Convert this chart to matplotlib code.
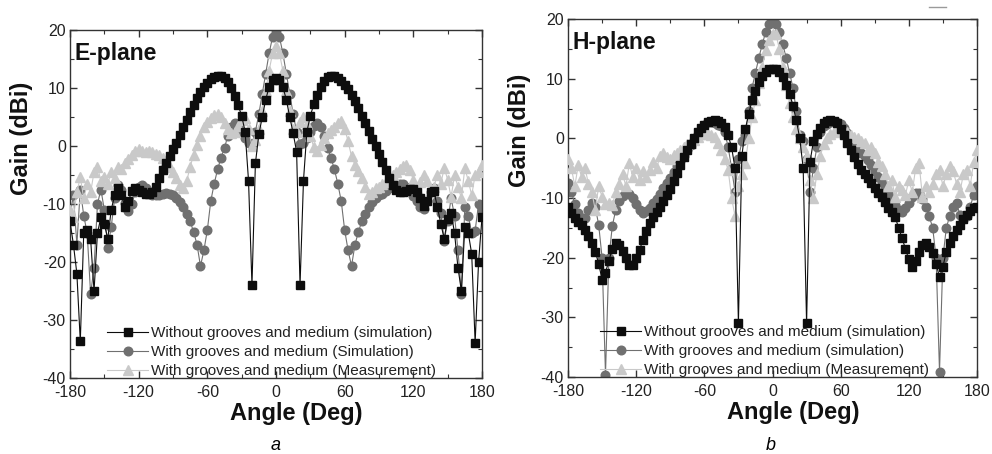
import numpy as np
import matplotlib
matplotlib.use('Agg')
import matplotlib.pyplot as plt
from matplotlib.lines import Line2D

plt.rcParams['font.family'] = ['Liberation Sans', 'DejaVu Sans']
plt.rcParams['axes.unicode_minus'] = False

# angle grid (deg), 3 deg steps
angle = np.arange(-180, 181, 3)

# E-plane
e_plain_sim = [
    -13, -17, -22, -33.7, -15, -14.5, -16, -25, -15, -12.3,
    -13.5, -16, -11, -8.5, -7.2, -8.5, -10.5, -9.5, -7.8, -7.2,
    -7.5, -8, -8.3, -8.3, -8, -7, -5.5, -4.2, -3, -1.8,
    -0.6, 0.6, 1.9, 3.2, 4.5, 5.8, 7, 8.2, 9.3, 10.2,
    10.9, 11.5, 11.9, 12.1, 12.1, 11.8, 11.1, 10, 8.6, 7,
    5.2, 2.5, -6, -24, -3, 2, 5, 8, 10.2, 11.4,
    11.8, 11.4, 10.2, 8, 5, 2.2, -1, -24, -6, 2.5,
    5.2, 7.2, 8.8, 10.1, 11.2, 11.9, 12.1, 12, 11.7, 11.2,
    10.6, 9.8, 8.8, 7.7, 6.5, 5.2, 3.9, 2.6, 1.2, 0,
    -1.4, -2.8, -4.2, -5.6, -6.8, -7.5, -7.9, -8, -7.8, -7.4,
    -7.4, -7.9, -9, -10.3, -9.5, -8, -7.8, -10.5, -13.4, -16,
    -12.5, -11.5, -15, -21, -25, -14, -15, -18.6, -33.9, -20,
    -12.3]
e_grooves_sim = [
    -12, -8.5, -17, -7.5, -12, -15, -25.5, -21, -10, -7.5,
    -11, -17.5, -14, -9, -6.8, -7.5, -9.8, -11.2, -10, -8,
    -7, -6.8, -7.3, -8, -8.4, -8.5, -8.4, -8.2, -8.1, -8.2,
    -8.5, -8.9, -9.6, -10.5, -11.8, -13, -14.8, -17, -20.7, -18,
    -14.5, -9.5, -6.5, -4, -2, -0.3, 1.8, 3.3, 3.9, 3.5,
    2.5, 1.3, 0.6, 0.4, 2.5, 5.5, 9, 12.5, 16, 18.8,
    19.7, 18.8, 16, 12.5, 9, 5.5, 2.5, 0.4, 0.6, 1.3,
    2.5, 3.5, 3.9, 3.3, 1.8, -0.3, -2, -4, -6.5, -9.5,
    -14.5, -18, -20.7, -17, -14.8, -13, -11.8, -10.5, -9.6, -8.9,
    -8.5, -8.2, -7.8, -7.3, -7, -6.8, -6.6, -6.5, -7, -7.8,
    -8.6, -9.4, -10.5, -10.8, -9.5, -8, -7.2, -9.5, -11.5, -16.3,
    -13, -9, -12, -18, -25.5, -10.5, -12, -15, -14.6, -10,
    -11]
e_grooves_meas = [
    -11, -12.3, -8, -5.4, -9, -6.5, -8, -4.5, -3.6, -6,
    -5.4, -6.5, -4.5, -5.5, -3.6, -4, -3, -2.2, -1.5, -0.8,
    -0.5, -0.8, -1, -0.9, -1, -1.3, -1.6, -2, -2.6, -3.6,
    -4.5, -5.5, -6.8, -7.2, -6, -3.6, -1.5, 0.2, 1.8, 3.3,
    4.2, 4.8, 5.4, 5.6, 5, 4, 3, 2.2, 2.5, 3.5,
    4.4, 4.8, 3, 0, 1, 3, 6, 9.5, 13, 16,
    17.3, 16, 13, 9.5, 6, 3, 2.5, 4.2, 5, 3.8,
    1.8, -0.2, -0.8, 0.2, 1.3, 2.2, 2.8, 3.3, 4, 4.3,
    3, 0.8, -1.8, -3.2, -4.3, -5.6, -7, -8.2, -7.9, -7.3,
    -7, -6.6, -6.2, -5.6, -5, -4.5, -4, -3.5, -3.3, -4.2,
    -5.8, -7.4, -6.2, -5, -6, -7.8, -7, -5, -6.5, -3.8,
    -5.8, -8.8, -5, -7, -9, -3.8, -6, -8.5, -5, -4.5,
    -3.3]

# H-plane
h_plain_sim = [
    -11.5, -12.5, -13.3, -14, -14.6, -15.3, -16.3, -17.5, -19, -21,
    -23.7, -22.5, -20.5, -18.5, -17.6, -17.8, -18.8, -20, -21.2, -21.3,
    -20, -18.7, -17, -15.5, -14.2, -13.2, -12.3, -11.5, -10.5, -9.5,
    -8.5, -7.2, -5.8, -4.5, -3.2, -2, -1, 0, 1, 1.8,
    2.3, 2.7, 2.9, 3, 2.9, 2.6, 1.9, 0.5, -1.5, -5,
    -31, -3, 1.5, 4, 6.4, 8, 9.5, 10.5, 11.2, 11.6,
    11.7, 11.6, 11.1, 10.3, 9, 7.5, 5.5, 3, 0, -5,
    -31, -4, -0.5, 0.8, 1.8, 2.5, 2.9, 3, 2.9, 2.5,
    1.6, 0.6, -0.7, -2, -3.2, -4.3, -5.3, -6, -6.6, -7.5,
    -8.4, -9.2, -9.9, -10.7, -11.6, -12.4, -13.2, -15, -16.7, -18.5,
    -20.3, -21.5, -20.5, -19, -17.8, -17.6, -18.2, -19.3, -21, -23.3,
    -21.5, -19, -17.5, -16.3, -15.4, -14.5, -13.6, -12.8, -12.1, -11.7,
    -11.5]
h_grooves_sim = [
    -7.5, -9, -11, -12.5, -13.3, -13.4, -12, -10.9, -11.5, -14.5,
    -20, -39.6, -20, -14.7, -12, -10.5, -9.6, -9.2, -9.3, -10,
    -11, -12, -12.5, -12.2, -11.6, -10.9, -10.2, -9.3, -8.4, -7.5,
    -6.6, -5.6, -4.7, -3.8, -2.9, -2, -1.1, -0.2, 0.8, 1.6,
    2.3, 2.8, 2.8, 2.6, 2.3, 2, 1, -1.5, -5, -9,
    -3.5, -0.5, 0.5, 4.5, 8.5, 11, 13.5, 15.8, 17.8, 19.2,
    19.8, 19.2, 17.8, 15.8, 13.5, 11, 8.5, 4.5, 0.5, -0.5,
    -3.5, -9, -5, -1.5, 1, 2, 2.4, 2.7, 2.8, 2.8,
    2.4, 1.7, 0.9, 0, -0.9, -1.7, -2.4, -3, -3.6, -4.5,
    -5.4, -6.4, -7.4, -8.3, -9.2, -10.2, -11.2, -12, -12.3, -11.7,
    -10.8, -9.8, -9.2, -9.2, -10.2, -11.5, -13.1, -15, -20, -39.1,
    -20, -15, -13, -11.5, -10.9, -12.8, -13.5, -13, -11.5, -9.5,
    -8]
h_grooves_meas = [
    -3.5, -5, -8, -4.5, -6.5, -5, -7.6, -9, -12, -8,
    -9.8, -11, -10.9, -11.2, -9, -7.6, -6, -8, -4.2, -6.5,
    -5, -7, -5.5, -6.5, -5.3, -4, -5, -3, -2.5, -3.1,
    -3.5, -2.8, -2.5, -2, -1.5, -1, -0.8, -0.3, 0.3, 0.8,
    1, 0.8, 0.5, 0.3, -0.8, -2, -3.5, -5.3, -10, -13,
    -8, -6, -4.2, 0, 3.5, 6.5, 9.2, 12, 14.8, 16.5,
    17.5, 17.5, 15, 12, 9, 6, 3.5, 1.5, 0, -1.5,
    -3, -7, -10, -6, -3, -1, 0, 0.8, 1, 1.3,
    1.5, 1.2, 1, 0.5, 0.3, 0, -0.5, -0.8, -2, -1.5,
    -2.5, -4, -4.7, -6, -8, -7, -9.8, -8, -8.7, -9.5,
    -7, -9, -5, -4.2, -9.8, -8, -9, -7.6, -6, -5.3,
    -8, -6, -4.7, -5.5, -7.6, -9, -6, -5.3, -8, -4,
    -2]

labels_e = ['Without grooves and medium (simulation)',
            'With grooves and medium (Simulation)',
            'With grooves and medium (Measurement)']
labels_h = ['Without grooves and medium (simulation)',
            'With grooves and medium (simulation)',
            'With grooves and medium (Measurement)']

c_black = '#0d0d0d'
c_gray = '#707070'
c_light = '#c9c9c9'


def panel(ax, plain, grooves, meas, labels, title, leg_x, lab_y):
    ax.plot(angle, grooves, '-o', color=c_gray, mec=c_gray, ms=6.2, lw=0.8, zorder=2, label=labels[1])
    ax.plot(angle, meas, '-^', color=c_light, mec=c_light, ms=7, lw=0.8, zorder=3, label=labels[2])
    ax.plot(angle, plain, '-s', color=c_black, mec=c_black, ms=5.2, lw=0.8, zorder=4, label=labels[0])
    ax.set_xlim(-180, 180)
    ax.set_ylim(-40, 20)
    ax.set_xticks(np.arange(-180, 181, 60))
    ax.set_xticks(np.arange(-180, 181, 30), minor=True)
    ax.set_yticks(np.arange(-40, 21, 10))
    ax.set_yticks(np.arange(-40, 21, 5), minor=True)
    ax.tick_params(which='both', direction='in', top=True, right=True, labelsize=11.5,
                   color='#333333', labelcolor='#222222')
    ax.tick_params(which='major', length=5, width=1)
    ax.tick_params(which='minor', length=3, width=0.8)
    ax.tick_params(axis='x', which='major', pad=5)
    ax.tick_params(axis='y', which='major', pad=3)
    for s in ax.spines.values():
        s.set_color('#333333')
        s.set_linewidth(1)
    ax.set_xlabel('Angle (Deg)', fontsize=17, fontweight='bold', color='#111111')
    ax.set_ylabel('Gain (dBi)', fontsize=17, fontweight='bold', color='#111111')
    ax.xaxis.set_label_coords(0.55, -0.068)
    ax.yaxis.set_label_coords(-0.09, lab_y)
    ax.text(0.01, 0.915, title, transform=ax.transAxes, fontsize=16.5, fontweight='bold',
            color='#111111', va='baseline', ha='left')
    h, l = ax.get_legend_handles_labels()
    order = [2, 0, 1]
    leg = ax.legend([h[i] for i in order], [l[i] for i in order], loc='lower left',
                    bbox_to_anchor=(leg_x, 0.0), frameon=False, fontsize=11,
                    handlelength=2.7, handletextpad=0.2, labelspacing=0.32,
                    borderpad=0, borderaxespad=0)
    for t in leg.get_texts():
        t.set_color('#222222')


fig = plt.figure(figsize=(9.92, 4.54), dpi=100)
ax1 = fig.add_axes([70 / 992, 1 - 378 / 454, 412 / 992, 348 / 454])
ax2 = fig.add_axes([568 / 992, 1 - 377 / 454, 409 / 992, 358 / 454])

panel(ax1, e_plain_sim, e_grooves_sim, e_grooves_meas, labels_e, 'E-plane', 0.09, 0.69)
panel(ax2, h_plain_sim, h_grooves_sim, h_grooves_meas, labels_h, 'H-plane', 0.078, 0.69)

fig.text(276 / 992, 1 - 446 / 454, 'a', fontsize=13, style='italic', ha='center', va='center')
fig.text(771 / 992, 1 - 446 / 454, 'b', fontsize=13, style='italic', ha='center', va='center')

# small stray dash above the right panel, as in the source image
fig.add_artist(Line2D([929 / 992, 946 / 992], [1 - 7 / 454, 1 - 7 / 454], color='#9a9a9a', lw=1))

fig.savefig('out.png', dpi=100)
